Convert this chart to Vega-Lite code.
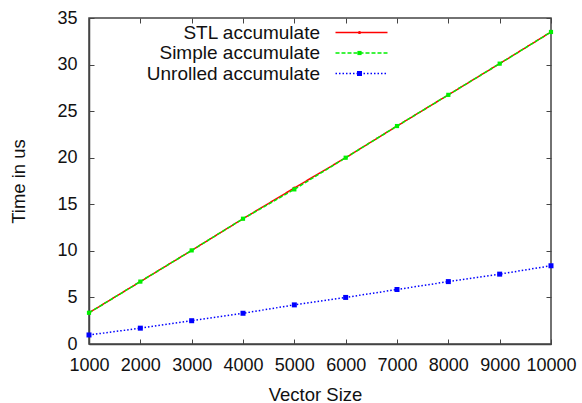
{
  "$schema": "https://vega.github.io/schema/vega-lite/v6.json",
  "width": 462,
  "height": 326,
  "autosize": {"type": "none"},
  "padding": {"left": 89, "top": 18, "right": 31, "bottom": 59},
  "background": "white",
  "config": {
    "font": "Liberation Sans",
    "view": {"stroke": "#444", "strokeWidth": 1.5},
    "axis": {
      "labelFont": "Liberation Sans",
      "titleFont": "Liberation Sans",
      "labelFontSize": 18,
      "titleFontSize": 18.5,
      "titleFontWeight": "normal",
      "labelColor": "#111",
      "titleColor": "#111",
      "domainColor": "#444",
      "domainWidth": 1.5,
      "tickColor": "#444",
      "tickWidth": 1,
      "tickSize": -5,
      "gridColor": "#cfcfcf",
      "gridDash": [2, 3],
      "gridWidth": 1
    },
    "legend": {
      "labelFont": "Liberation Sans",
      "labelFontSize": 19,
      "labelColor": "#111",
      "labelLimit": 400
    }
  },
  "data": {
    "values": [
      {"x": 1000, "y": 3.35, "series": "STL accumulate", "marker": "STL"},
      {"x": 2000, "y": 6.7, "series": "STL accumulate", "marker": "STL"},
      {"x": 3000, "y": 10.05, "series": "STL accumulate", "marker": "STL"},
      {"x": 4000, "y": 13.45, "series": "STL accumulate", "marker": "STL"},
      {"x": 5000, "y": 16.75, "series": "STL accumulate", "marker": "STL"},
      {"x": 6000, "y": 20.0, "series": "STL accumulate", "marker": "STL"},
      {"x": 7000, "y": 23.4, "series": "STL accumulate", "marker": "STL"},
      {"x": 8000, "y": 26.75, "series": "STL accumulate", "marker": "STL"},
      {"x": 9000, "y": 30.1, "series": "STL accumulate", "marker": "STL"},
      {"x": 10000, "y": 33.5, "series": "STL accumulate", "marker": "STL"},
      {"x": 1000, "y": 3.35, "series": "Simple accumulate", "marker": "Simple"},
      {"x": 2000, "y": 6.7, "series": "Simple accumulate", "marker": "Simple"},
      {"x": 3000, "y": 10.05, "series": "Simple accumulate", "marker": "Simple"},
      {"x": 4000, "y": 13.45, "series": "Simple accumulate", "marker": "Simple"},
      {"x": 5000, "y": 16.6, "series": "Simple accumulate", "marker": "Simple"},
      {"x": 6000, "y": 20.0, "series": "Simple accumulate", "marker": "Simple"},
      {"x": 7000, "y": 23.4, "series": "Simple accumulate", "marker": "Simple"},
      {"x": 8000, "y": 26.75, "series": "Simple accumulate", "marker": "Simple"},
      {"x": 9000, "y": 30.1, "series": "Simple accumulate", "marker": "Simple"},
      {"x": 10000, "y": 33.5, "series": "Simple accumulate", "marker": "Simple"},
      {"x": 1000, "y": 0.97, "series": "Unrolled accumulate", "marker": "Unrolled"},
      {"x": 2000, "y": 1.7, "series": "Unrolled accumulate", "marker": "Unrolled"},
      {"x": 3000, "y": 2.5, "series": "Unrolled accumulate", "marker": "Unrolled"},
      {"x": 4000, "y": 3.3, "series": "Unrolled accumulate", "marker": "Unrolled"},
      {"x": 5000, "y": 4.2, "series": "Unrolled accumulate", "marker": "Unrolled"},
      {"x": 6000, "y": 5.0, "series": "Unrolled accumulate", "marker": "Unrolled"},
      {"x": 7000, "y": 5.85, "series": "Unrolled accumulate", "marker": "Unrolled"},
      {"x": 8000, "y": 6.7, "series": "Unrolled accumulate", "marker": "Unrolled"},
      {"x": 9000, "y": 7.5, "series": "Unrolled accumulate", "marker": "Unrolled"},
      {"x": 10000, "y": 8.4, "series": "Unrolled accumulate", "marker": "Unrolled"}
    ]
  },
  "resolve": {"axis": {"x": "independent", "y": "independent"}},
  "layer": [
    {
      "mark": {"type": "point", "opacity": 0},
      "encoding": {
        "x": {"field": "x", "type": "quantitative", "scale": {"domain": [1000, 10000], "nice": false},
          "axis": {"orient": "top", "values": [1000, 2000, 3000, 4000, 5000, 6000, 7000, 8000, 9000, 10000], "labels": false, "title": null, "grid": false, "domain": false}},
        "y": {"field": "y", "type": "quantitative", "scale": {"domain": [0, 35], "nice": false},
          "axis": {"orient": "right", "values": [0, 5, 10, 15, 20, 25, 30, 35], "labels": false, "title": null, "grid": false, "domain": false}}
      }
    },
    {
      "mark": {"type": "line", "strokeWidth": 1.5},
      "encoding": {
        "x": {"field": "x", "type": "quantitative", "scale": {"domain": [1000, 10000], "nice": false},
          "axis": {"orient": "bottom", "values": [1000, 2000, 3000, 4000, 5000, 6000, 7000, 8000, 9000, 10000], "format": "d", "title": "Vector Size", "titleX": 226, "labelPadding": 17, "titlePadding": 11, "labelFlush": false, "labelOverlap": false}},
        "y": {"field": "y", "type": "quantitative", "scale": {"domain": [0, 35], "nice": false},
          "axis": {"orient": "left", "values": [0, 5, 10, 15, 20, 25, 30, 35], "format": "d", "title": "Time in us", "labelPadding": 17, "titlePadding": 28}},
        "stroke": {"field": "series", "type": "nominal",
          "scale": {"domain": ["STL accumulate", "Simple accumulate", "Unrolled accumulate"], "range": ["#ff0000", "#00f000", "#0000ff"]},
          "legend": {"orient": "none", "legendX": 263, "legendY": 5, "title": null, "padding": 0, "symbolType": "M-4,0H4", "symbolSize": 169, "symbolStrokeWidth": 1.5, "labelAlign": "right", "labelOffset": -51, "rowPadding": 0.5}},
        "strokeDash": {"field": "series", "type": "nominal",
          "scale": {"domain": ["STL accumulate", "Simple accumulate", "Unrolled accumulate"], "range": [[1, 0], [4, 2], [1.5, 2]]},
          "legend": {"orient": "none", "legendX": 263, "legendY": 5, "title": null, "padding": 0, "symbolType": "M-4,0H4", "symbolSize": 169, "symbolStrokeWidth": 1.5, "labelAlign": "right", "labelOffset": -51, "rowPadding": 0.5}}
      }
    },
    {
      "mark": {"type": "point", "filled": true, "opacity": 1},
      "encoding": {
        "x": {"field": "x", "type": "quantitative", "scale": {"domain": [1000, 10000], "nice": false}, "axis": null},
        "y": {"field": "y", "type": "quantitative", "scale": {"domain": [0, 35], "nice": false}, "axis": null},
        "fill": {"field": "marker", "type": "nominal",
          "scale": {"domain": ["STL", "Simple", "Unrolled"], "range": ["#ff0000", "#00f000", "#0000ff"]},
          "legend": {"orient": "none", "legendX": 261, "legendY": 5, "title": null, "padding": 0, "labelOpacity": 0, "rowPadding": 0.5}},
        "shape": {"field": "marker", "type": "nominal",
          "scale": {"domain": ["STL", "Simple", "Unrolled"], "range": ["circle", "square", "square"]}},
        "size": {"field": "marker", "type": "nominal",
          "scale": {"domain": ["STL", "Simple", "Unrolled"], "range": [10, 25, 30]}}
      }
    }
  ]
}
